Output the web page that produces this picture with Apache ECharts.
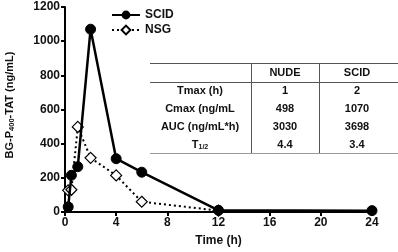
<!DOCTYPE html>
<html><head><meta charset="utf-8">
<script src="https://cdn.jsdelivr.net/npm/echarts@6/dist/echarts.min.js"></script>
<style>html,body{margin:0;padding:0;background:#fff}#c{width:398px;height:252px}</style>
</head><body><div id="c"></div>
<script>
const scidTime = [0.25, 0.5, 1, 2, 4, 6, 12, 24];
const scidConc = [30, 215, 265, 1070, 312, 233, 10, 8];
const nsgTime = [0.25, 0.5, 1, 2, 4, 6, 12];
const nsgConc = [127, 130, 498, 317, 214, 60, 8];
const xTicks = [0, 4, 8, 12, 16, 20, 24];
const yTicks = [0, 200, 400, 600, 800, 1000, 1200];
const yTitle = 'BG-P{s|400}-TAT (ng/mL)';
const tableHeader = ['', 'NUDE', 'SCID'];
const tableRows = [
  ['Tmax (h)', '1', '2'],
  ['Cmax (ng/mL', '498', '1070'],
  ['AUC (ng/mL*h)', '3030', '3698'],
  ['T{s|1/2}', '4.4', '3.4']
];

const F = '"Liberation Sans", Arial, sans-serif';
const chart = echarts.init(document.getElementById('c'));

const colX = [200, 285, 357];
const rowY = [73, 91, 109, 127, 145];
const graphics = [];
const line = (x1, y1, x2, y2, c) => ({type: 'line', shape: {x1, y1, x2, y2}, style: {stroke: c || '#555', lineWidth: 1}, silent: true});
graphics.push(line(150, 63.5, 398, 63.5));
graphics.push(line(150, 82.5, 398, 82.5));
graphics.push(line(150, 153.5, 398, 153.5, '#999'));
graphics.push(line(251.5, 63, 251.5, 153));
graphics.push(line(319.5, 63, 319.5, 153));
const allRows = [tableHeader].concat(tableRows);
allRows.forEach((r, i) => {
  r.forEach((t, j) => {
    if (!t) return;
    graphics.push({type: 'text', x: colX[j], y: rowY[i], silent: true,
      style: {text: t, font: 'bold 11px ' + F, fill: '#111', align: 'center', verticalAlign: 'middle',
        rich: {s: {font: 'bold 7px ' + F, fill: '#111', verticalAlign: 'bottom', padding: [5, 0, 0, 0]}}}});
  });
});
graphics.push({type: 'text', x: 10, y: 105, rotation: Math.PI / 2, silent: true,
  style: {text: yTitle, font: 'bold 11px ' + F, fill: '#111', align: 'center', verticalAlign: 'middle',
    rich: {s: {font: 'bold 7.5px ' + F, fill: '#111', padding: [4, 0, 0, 0]}}}});

chart.setOption({
  animation: false,
  grid: {left: 65, right: 26, top: 7, bottom: 39},
  legend: {
    left: 106, top: 4, orient: 'vertical', itemGap: 3, itemWidth: 28, itemHeight: 11,
    textStyle: {fontFamily: F, fontWeight: 'bold', fontSize: 12, color: '#111'},
    data: ['SCID', 'NSG']
  },
  xAxis: {
    type: 'value', min: 0, max: 24, interval: 4,
    name: 'Time (h)', nameLocation: 'middle', nameGap: 23,
    nameTextStyle: {fontFamily: F, fontWeight: 'bold', fontSize: 12, color: '#111'},
    axisLine: {onZero: false, lineStyle: {color: '#000', width: 2}},
    axisTick: {length: 4, lineStyle: {color: '#000', width: 2}},
    axisLabel: {fontFamily: F, fontWeight: 'bold', fontSize: 12, color: '#111', margin: 5},
    splitLine: {show: false}
  },
  yAxis: {
    type: 'value', min: 0, max: 1200, interval: 200,
    axisLine: {show: true, lineStyle: {color: '#000', width: 2}},
    axisTick: {show: true, length: 4, lineStyle: {color: '#000', width: 2}},
    axisLabel: {fontFamily: F, fontWeight: 'bold', fontSize: 12, color: '#111', margin: 5,
      formatter: v => String(v)},
    splitLine: {show: false}
  },
  series: [
    {name: 'NSG', type: 'line', data: nsgTime.map((t, i) => [t, nsgConc[i]]),
      symbol: 'diamond', symbolSize: 11, z: 2,
      lineStyle: {color: '#000', width: 2, type: [2, 3]},
      itemStyle: {color: '#fff', borderColor: '#000', borderWidth: 1.2}},
    {name: 'SCID', type: 'line', data: scidTime.map((t, i) => [t, scidConc[i]]),
      symbol: 'circle', symbolSize: 10, z: 3,
      lineStyle: {color: '#000', width: 2.5},
      itemStyle: {color: '#000', borderColor: '#000'}}
  ],
  graphic: graphics
});
</script></body></html>
